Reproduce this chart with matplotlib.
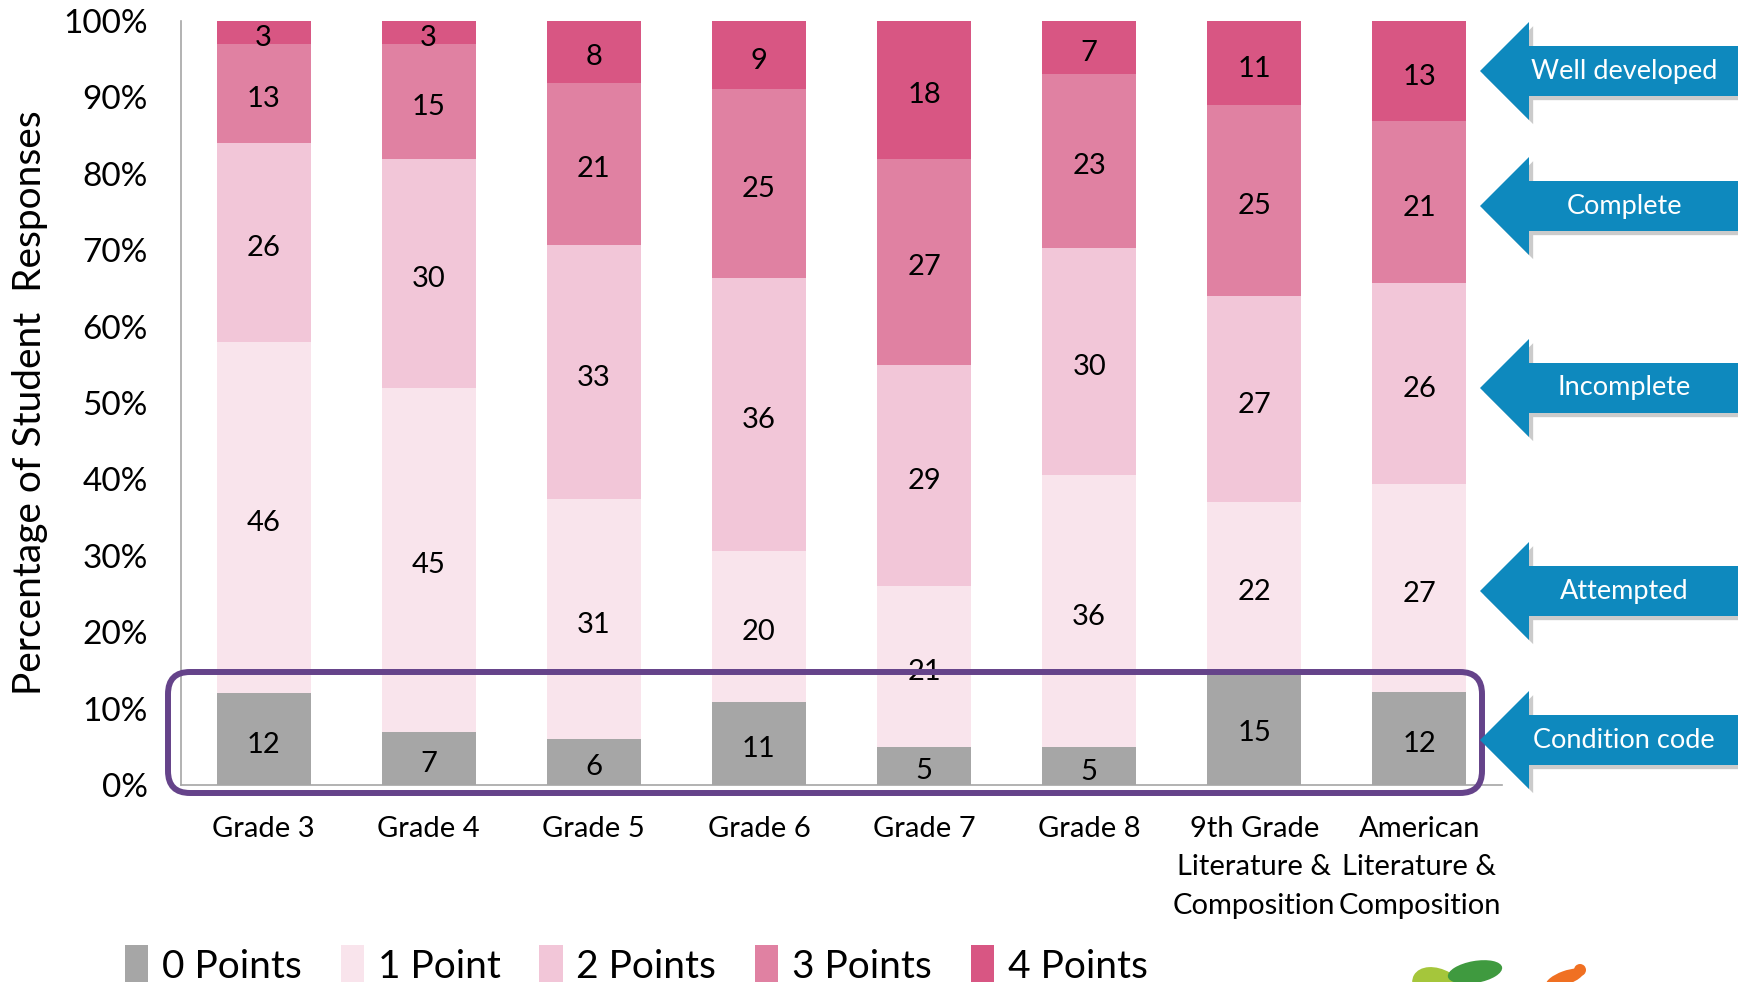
import matplotlib
matplotlib.use('Agg')
import matplotlib.pyplot as plt
import numpy as np
from matplotlib.patches import FancyBboxPatch, Polygon, Ellipse
import matplotlib.patheffects as pe

plt.rcParams['font.family'] = ['Lato', 'DejaVu Sans']

categories = ['Grade 3', 'Grade 4', 'Grade 5', 'Grade 6', 'Grade 7', 'Grade 8',
              '9th Grade\nLiterature &\nComposition',
              'American\nLiterature &\nComposition']
series_names = ['0 Points', '1 Point', '2 Points', '3 Points', '4 Points']
points0 = [12, 7, 6, 11, 5, 5, 15, 12]
points1 = [46, 45, 31, 20, 21, 36, 22, 27]
points2 = [26, 30, 33, 36, 29, 30, 27, 26]
points3 = [13, 15, 21, 25, 27, 23, 25, 21]
points4 = [3, 3, 8, 9, 18, 7, 11, 13]
series_values = [points0, points1, points2, points3, points4]
colors = ['#A6A6A6', '#F9E4EC', '#F2C6D8', '#E081A2', '#D85683']
yticks = [0, 10, 20, 30, 40, 50, 60, 70, 80, 90, 100]
ytick_labels = [f'{v}%' for v in yticks]
arrow_labels = ['Well developed', 'Complete', 'Incomplete', 'Attempted', 'Condition code']

W, H = 1738, 982
fig = plt.figure(figsize=(W / 100, H / 100), dpi=100)
ax = fig.add_axes([181 / W, 1 - 785 / H, 1321 / W, 764 / H])

x = np.arange(len(categories))
vals = np.array(series_values, dtype=float)
totals = vals.sum(axis=0)
bottom = np.zeros(len(categories))
handles = []
for raw, color, name in zip(vals, colors, series_names):
    pct = raw / totals * 100
    b = ax.bar(x, pct, 0.57, bottom=bottom, color=color, label=name, zorder=2)
    handles.append(b)
    for xi, bi, pi, ri in zip(x, bottom, pct, raw):
        ax.annotate(f'{int(ri)}', (xi, bi + pi / 2), xytext=(0, -4),
                    textcoords='offset points', ha='center', va='center',
                    fontsize=21, color='black', zorder=3)
    bottom += pct

ax.set_xlim(-0.5, len(categories) - 0.5)
ax.set_ylim(0, 100)
ax.set_xticks(x)
ax.set_xticklabels(categories, fontsize=21)
for lbl in ax.get_xticklabels():
    lbl.set_linespacing(1.6)
ax.set_yticks(yticks)
ax.set_yticklabels(ytick_labels, fontsize=24)
ax.tick_params(axis='both', length=0)
ax.tick_params(axis='x', pad=22)
ax.tick_params(axis='y', pad=24)
for s in ['top', 'right']:
    ax.spines[s].set_visible(False)
for s in ['left', 'bottom']:
    ax.spines[s].set_color('#A6A6A6')
    ax.spines[s].set_linewidth(1.2)
ax.set_ylabel('Percentage of Student  Responses', fontsize=28)
ax.yaxis.set_label_coords(-0.101, 0.5)

fig.legend(handles, series_names, loc='upper left',
           bbox_to_anchor=(125 / W, 1 - 945 / H), ncol=5, frameon=False,
           fontsize=28, handlelength=0.6, handleheight=1.2, handletextpad=0.35,
           columnspacing=1.0, borderpad=0, borderaxespad=0)

# overlay in pixel coordinates for annotations
ov = fig.add_axes([0, 0, 1, 1], zorder=5)
ov.set_xlim(0, W)
ov.set_ylim(H, 0)
ov.axis('off')
ov.patch.set_alpha(0)

box = FancyBboxPatch((168, 672), 1314, 121,
                     boxstyle='round,pad=0,rounding_size=22',
                     fill=False, ec='#65438A', lw=4.3)
ov.add_patch(box)

arrow_y = [71, 206, 388, 591, 740]
for cy, lab in zip(arrow_y, arrow_labels):
    pts = [(1480, cy), (1529, cy - 49), (1529, cy - 25), (1750, cy - 25),
           (1750, cy + 25), (1529, cy + 25), (1529, cy + 49)]
    poly = Polygon(pts, closed=True, fc='#0E89BE', ec='none',
                   path_effects=[pe.SimplePatchShadow(offset=(3, -3), alpha=0.3,
                                                      shadow_rgbFace='#555555'),
                                 pe.Normal()])
    ov.add_patch(poly)
    ov.text(1624, cy, lab, color='white', ha='center', va='center', fontsize=19.5)

# small logo hint at bottom right
ov.add_patch(Ellipse((1440, 990), 60, 40, angle=30, fc='#A5C63B', ec='none'))
ov.add_patch(Ellipse((1475, 972), 55, 22, angle=-10, fc='#3F9A3F', ec='none'))
ov.add_patch(Ellipse((1565, 978), 40, 14, angle=-20, fc='#F07022', ec='none'))
ov.add_patch(Ellipse((1580, 970), 12, 12, fc='#F07022', ec='none'))

fig.savefig('out.png', dpi=100)
